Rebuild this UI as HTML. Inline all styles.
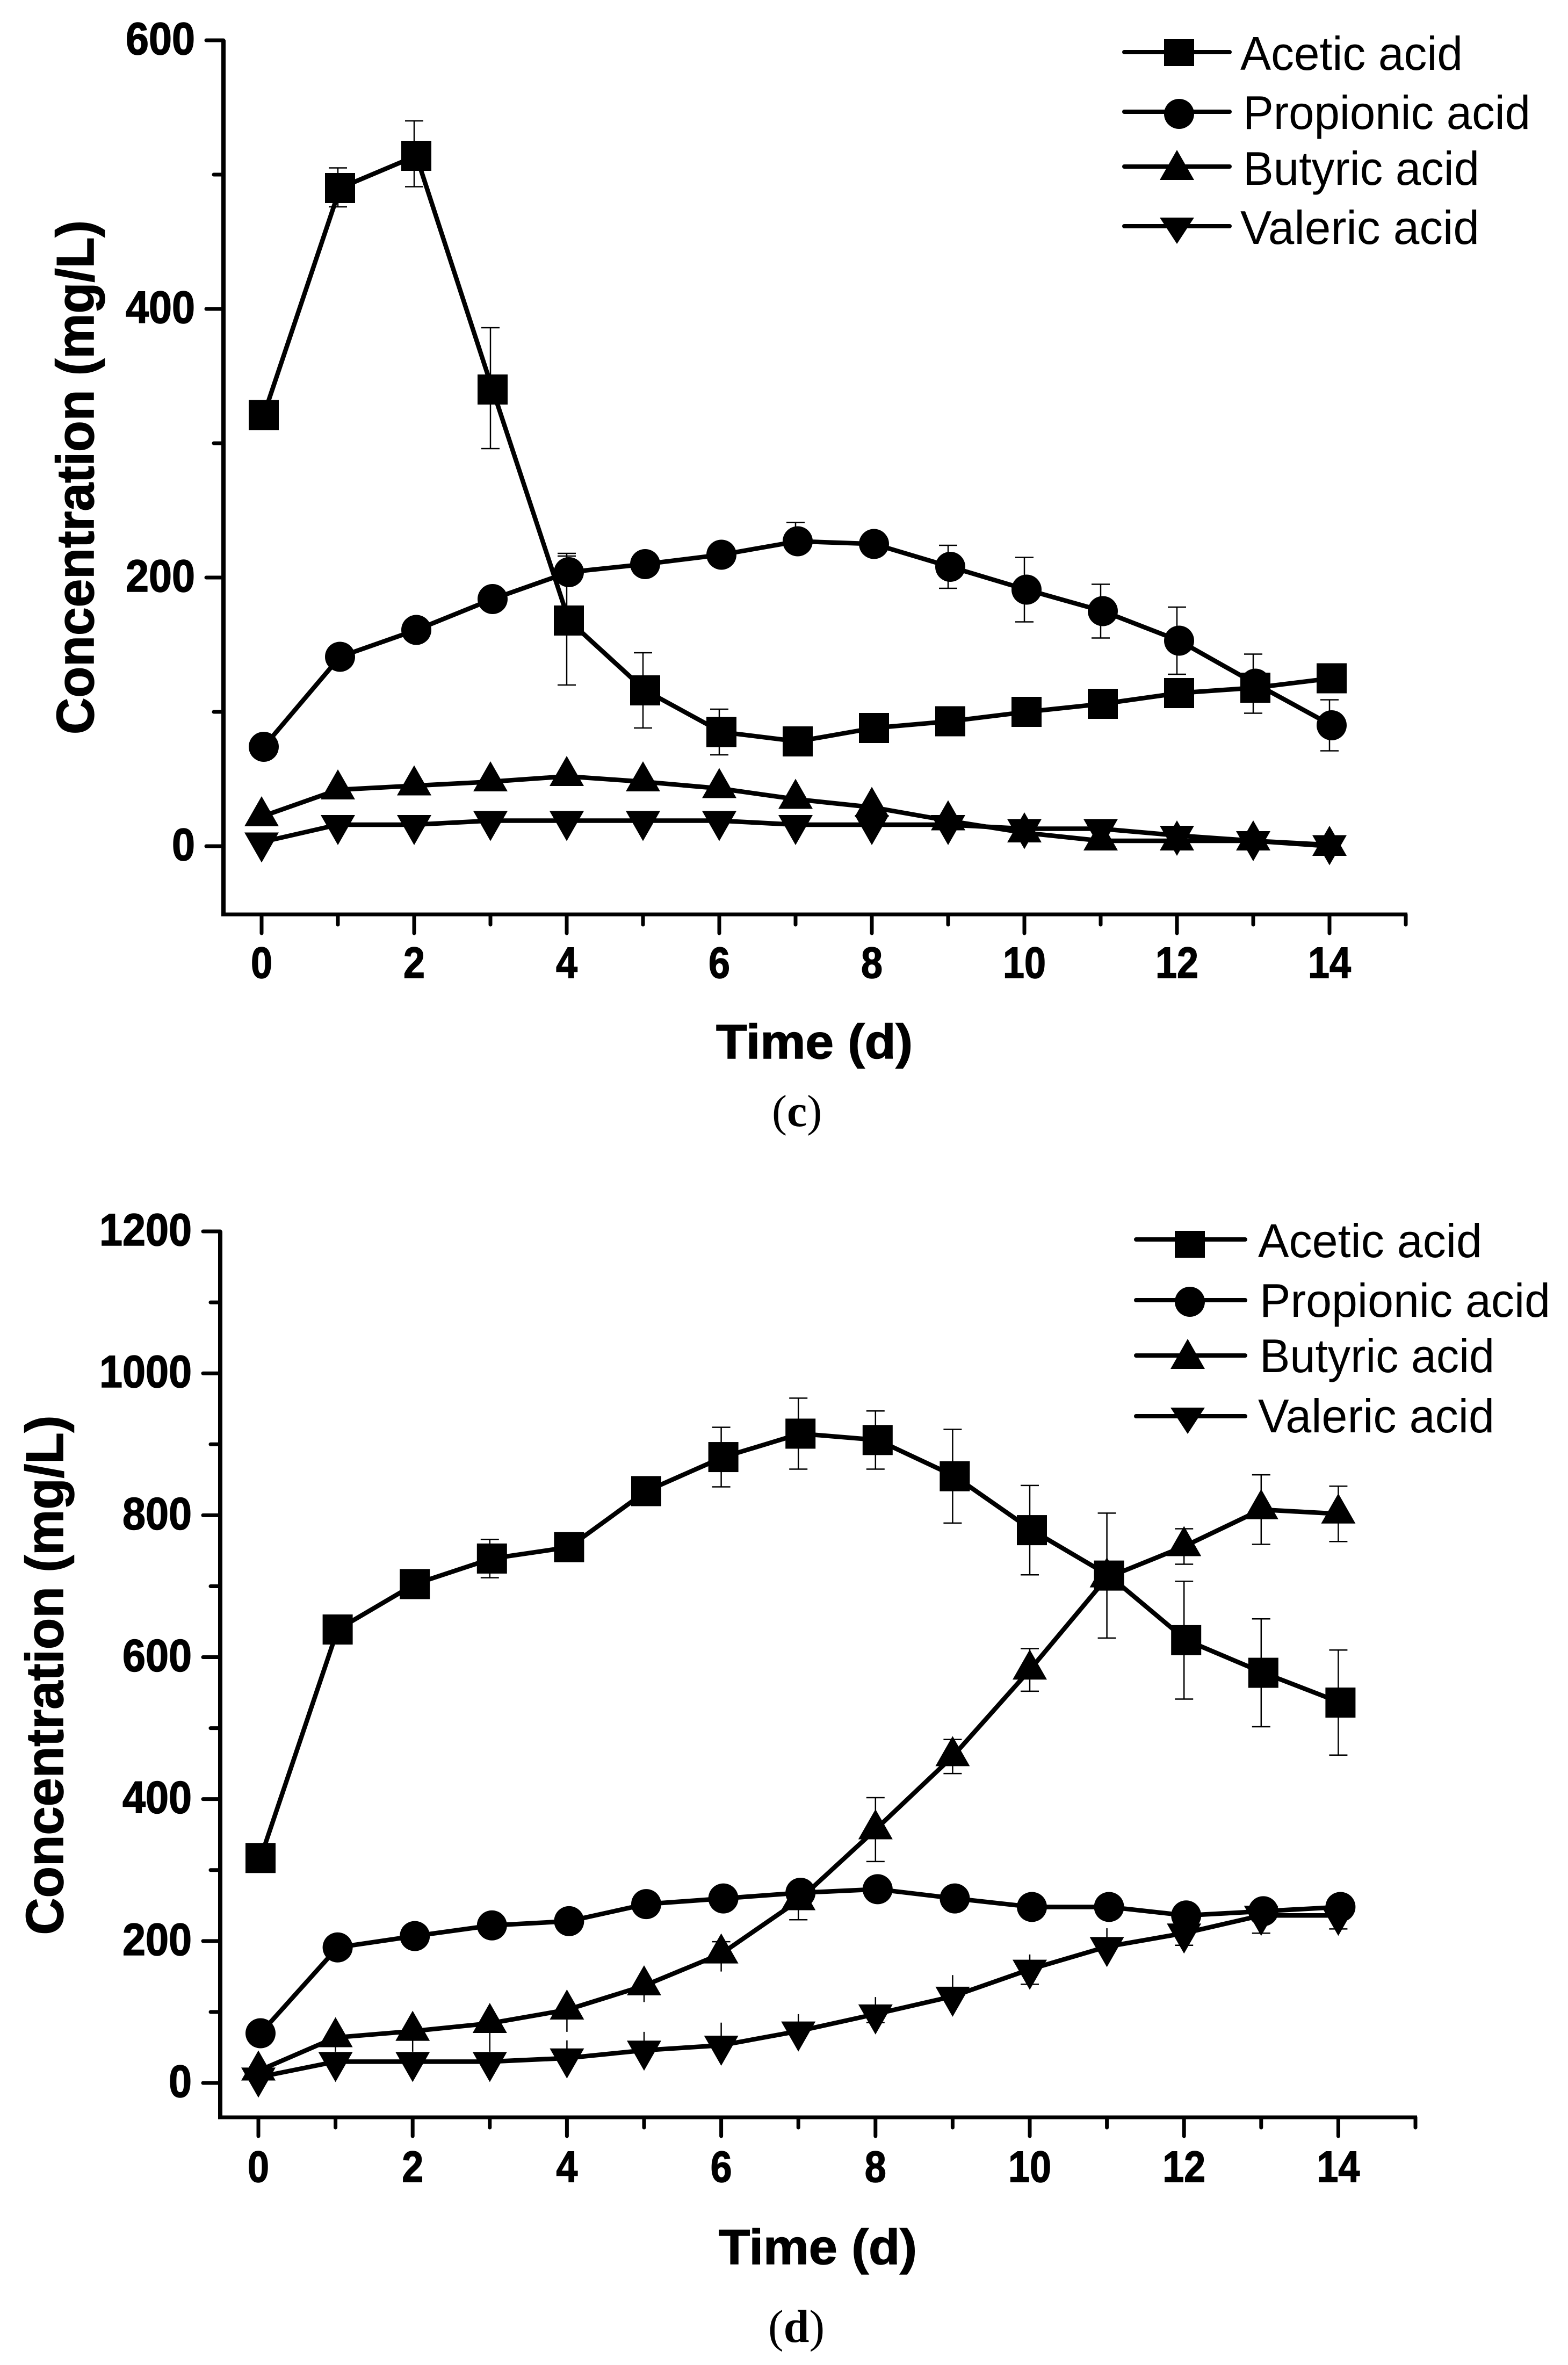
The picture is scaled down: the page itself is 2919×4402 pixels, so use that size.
<!DOCTYPE html>
<html lang="en">
<head>
<meta charset="utf-8">
<title>Volatile fatty acid concentration over time, panels c and d</title>
<style>
html,body{margin:0;padding:0;background:#fff;}
svg{display:block;}
text{fill:#000;font-family:"Liberation Sans",Arial,sans-serif;}
.bold{font-weight:bold;stroke:#000;stroke-width:1.5px;}
.caption{font-family:"Liberation Serif","Times New Roman",serif;}
</style>
</head>
<body>
<svg id="figure" xmlns="http://www.w3.org/2000/svg" width="2919" height="4402" viewBox="0 0 2919 4402">
  <rect x="0" y="0" width="2919" height="4402" fill="#fff"/>

  <g id="panel-c"></g>
  <text class="bold" font-size="98" text-anchor="middle" textLength="957" lengthAdjust="spacingAndGlyphs" transform="translate(174,888.5) rotate(-90)">Concentration (mg/L)</text>
  <text class="bold" font-size="90" x="1333" y="1970" textLength="366" lengthAdjust="spacingAndGlyphs">Time (d)</text>
  <text class="caption" font-size="84" x="1437" y="2096">(<tspan font-weight="bold">c</tspan>)</text>
  <g>
    <g>
      <line x1="2093" y1="97" x2="2289" y2="97" stroke="#000" stroke-width="8" stroke-linecap="round"/>
      <rect x="2167" y="73" width="56" height="50" fill="#000"/>
      <text font-size="88" x="2309" y="130" textLength="414" lengthAdjust="spacingAndGlyphs">Acetic acid</text>
    </g>
    <g>
      <line x1="2093" y1="208" x2="2289" y2="208" stroke="#000" stroke-width="8" stroke-linecap="round"/>
      <circle cx="2195" cy="212" r="28" fill="#000"/>
      <text font-size="88" x="2314" y="240" textLength="535" lengthAdjust="spacingAndGlyphs">Propionic acid</text>
    </g>
    <g>
      <line x1="2093" y1="310" x2="2289" y2="310" stroke="#000" stroke-width="8" stroke-linecap="round"/>
      <polygon points="2191,279 2159,335 2223,335" fill="#000"/>
      <text font-size="88" x="2314" y="344" textLength="440" lengthAdjust="spacingAndGlyphs">Butyric acid</text>
    </g>
    <g>
      <line x1="2093" y1="421" x2="2289" y2="421" stroke="#000" stroke-width="8" stroke-linecap="round"/>
      <polygon points="2159,405 2223,405 2191,454" fill="#000"/>
      <text font-size="88" x="2309" y="454" textLength="445" lengthAdjust="spacingAndGlyphs">Valeric acid</text>
    </g>
  </g>

  <g id="panel-d"></g>
  <text class="bold" font-size="98" text-anchor="middle" textLength="967" lengthAdjust="spacingAndGlyphs" transform="translate(117,3118) rotate(-90)">Concentration (mg/L)</text>
  <text class="bold" font-size="92" x="1338" y="4214" textLength="369" lengthAdjust="spacingAndGlyphs">Time (d)</text>
  <text class="caption" font-size="86" x="1430" y="4359">(<tspan font-weight="bold">d</tspan>)</text>
  <g>
    <g>
      <line x1="2115" y1="2307" x2="2318" y2="2307" stroke="#000" stroke-width="8" stroke-linecap="round"/>
      <rect x="2187" y="2291" width="56" height="50" fill="#000"/>
      <text font-size="88" x="2342" y="2340" textLength="417" lengthAdjust="spacingAndGlyphs">Acetic acid</text>
    </g>
    <g>
      <line x1="2115" y1="2420" x2="2318" y2="2420" stroke="#000" stroke-width="8" stroke-linecap="round"/>
      <circle cx="2215" cy="2423" r="28" fill="#000"/>
      <text font-size="88" x="2345" y="2451" textLength="541" lengthAdjust="spacingAndGlyphs">Propionic acid</text>
    </g>
    <g>
      <line x1="2115" y1="2523" x2="2318" y2="2523" stroke="#000" stroke-width="8" stroke-linecap="round"/>
      <polygon points="2211,2492 2179,2548 2243,2548" fill="#000"/>
      <text font-size="88" x="2345" y="2554" textLength="437" lengthAdjust="spacingAndGlyphs">Butyric acid</text>
    </g>
    <g>
      <line x1="2115" y1="2636" x2="2318" y2="2636" stroke="#000" stroke-width="8" stroke-linecap="round"/>
      <polygon points="2179,2620 2243,2620 2211,2669" fill="#000"/>
      <text font-size="88" x="2342" y="2666" textLength="440" lengthAdjust="spacingAndGlyphs">Valeric acid</text>
    </g>
  </g>
</svg>

<script>
// Shared categories and tick labels
const days = [0,1,2,3,4,5,6,7,8,9,10,11,12,13,14];
const xMajorTicks = [0,2,4,6,8,10,12,14];
const xMinorTicks = [1,3,5,7,9,11,13,15];

// Panel (c) tick labels
const cYMajorTicks = [0,200,400,600];
const cYMinorTicks = [100,300,500];

// Panel (c) series values (mg/L)
const cAcetic = [321,490,514,340,168,116,85,78,88,93,100,106,114,118,125];
const cPropionic = [74,141,161,184,204,210,217,227,225,208,191,175,153,121,90];
const cButyric = [22,42,45,48,52,48,43,35,29,19,10,4,4,4,0];
const cValeric = [3,16,16,19,19,19,19,16,16,16,13,13,8,4,1];

// Panel (c) error-bar extents above and below each value (mg/L)
const cAceticErrUp = [0,15,26,46,48,28,17,0,0,0,0,0,0,0,0];
const cAceticErrDown = [0,14,23,44,48,28,17,0,0,0,0,0,0,0,0];
const cPropionicErrUp = [0,0,0,0,14,0,0,14,0,16,24,20,25,22,19];
const cPropionicErrDown = [0,0,0,0,0,0,0,0,0,16,24,20,25,22,19];
const cNoErr = [0,0,0,0,0,0,0,0,0,0,0,0,0,0,0];

// Panel (d) tick labels
const dYMajorTicks = [0,200,400,600,800,1000,1200];
const dYMinorTicks = [100,300,500,700,900,1100];

// Panel (d) series values (mg/L)
const dAcetic = [317,639,703,739,755,834,882,915,906,855,779,715,624,578,536];
const dPropionic = [70,191,207,222,228,252,260,268,273,260,248,248,236,242,248];
const dButyric = [17,64,73,84,103,137,182,257,357,460,582,712,756,808,802];
const dValeric = [8,30,30,30,35,46,53,73,97,122,160,192,211,236,236];

// Panel (d) error-bar extents above and below each value (mg/L)
const dAceticErr = [0,0,0,27,0,0,42,50,41,66,63,88,83,76,74];
const dNoErr = [0,0,0,0,0,0,0,0,0,0,0,0,0,0,0];
const dButyricErrUp = [0,0,0,0,0,0,17,0,45,24,30,0,25,49,39];
const dButyricErrDown = [0,20,29,40,31,23,25,27,45,24,30,0,25,49,39];
const dValericErrUp = [0,0,0,0,25,26,32,24,24,30,21,26,0,0,0];
const dValericErrDown = [0,0,0,0,0,0,0,0,12,0,21,0,17,25,19];

const SVG_NS = 'http://www.w3.org/2000/svg';

function node(parent, tag, attrs) {
  const el = document.createElementNS(SVG_NS, tag);
  for (const k in attrs) el.setAttribute(k, attrs[k]);
  parent.appendChild(el);
  return el;
}

function drawPanel(root, cfg, series) {
  // Axis functions
  const sx = v => cfg.x0 + v * cfg.xPerUnit;
  const sy = v => cfg.y0 - v * cfg.yPerUnit;
  const bottom = sy(cfg.yMin);
  const left = cfg.axisX;

  // Axes
  const yAxis = node(root, 'line', {x1:left, y1:sy(cfg.yMax), x2:left, y2:bottom+3, stroke:'#000', 'stroke-width':8});
  
  
  const xAxis = node(root, 'line', {x1:left-4, y1:bottom, x2:sx(15)+3, y2:bottom, stroke:'#000', 'stroke-width':7});
  
  

  // Y ticks
  cfg.yMajor.forEach(v => {
    const t = node(root, 'line', {x1:left-32, y1:sy(v), x2:left, y2:sy(v), stroke:'#000', 'stroke-width':7, 'stroke-linecap':'round'});
    
    
    const s = String(v);
    const l = node(root, 'text', {x:cfg.yLabelRight, y:sy(v)+26, 'font-size':84, 'font-weight':'bold', stroke:'#000', 'stroke-width':1.5, 'text-anchor':'end', textLength:s.length*43, lengthAdjust:'spacingAndGlyphs'});
    l.textContent = s;
    
    
  });
  cfg.yMinor.forEach(v => {
    const t = node(root, 'line', {x1:left-18, y1:sy(v), x2:left, y2:sy(v), stroke:'#000', 'stroke-width':7, 'stroke-linecap':'round'});
    
    
  });

  // X ticks
  xMajorTicks.forEach(v => {
    const t = node(root, 'line', {x1:sx(v), y1:bottom, x2:sx(v), y2:bottom+35, stroke:'#000', 'stroke-width':7, 'stroke-linecap':'round'});
    
    
    const s = String(v);
    const l = node(root, 'text', {x:sx(v), y:cfg.xLabelBase, 'font-size':82, 'font-weight':'bold', stroke:'#000', 'stroke-width':1.5, 'text-anchor':'middle', textLength:s.length*40, lengthAdjust:'spacingAndGlyphs'});
    l.textContent = s;
    
    
  });
  xMinorTicks.forEach(v => {
    const t = node(root, 'line', {x1:sx(v), y1:bottom, x2:sx(v), y2:bottom+19, stroke:'#000', 'stroke-width':7, 'stroke-linecap':'round'});
    
    
  });

  // Series
  series.forEach(sr => {
    const g = node(root, 'g', {});
    
    

    // Error bars sit on the tick position
    days.forEach((d, i) => {
      const up = sr.errUp[i], down = sr.errDown[i];
      if (!up && !down) return;
      const x = sx(d), v = sr.values[i];
      let path = 'M' + x + ' ' + sy(v+up) + 'V' + sy(v-down);
      if (up && i >= sr.capUpFrom) path += 'M' + (x-17) + ' ' + sy(v+up) + 'H' + (x+17);
      if (down && i >= sr.capDownFrom) path += 'M' + (x-17) + ' ' + sy(v-down) + 'H' + (x+17);
      const eb = node(g, 'path', {d:path, fill:'none', stroke:'#000', 'stroke-width':2.5});
      
      
    });

    // Connecting line
    const pts = days.map((d, i) => (sx(d)+sr.dx) + ',' + sy(sr.values[i])).join(' ');
    const pl = node(g, 'polyline', {points:pts, fill:'none', stroke:'#000', 'stroke-width':8.5, 'stroke-linejoin':'round'});
    
    

    // Markers
    days.forEach((d, i) => {
      const x = sx(d) + sr.dx, y = sy(sr.values[i]);
      let m;
      if (sr.shape === 'square') {
        m = node(g, 'rect', {x:x-28, y:y-28, width:56, height:56, fill:'#000'});
      } else if (sr.shape === 'circle') {
        m = node(g, 'circle', {cx:x, cy:y, r:28, fill:'#000'});
      } else if (sr.shape === 'up') {
        m = node(g, 'polygon', {points:x+','+(y-38)+' '+(x-32)+','+(y+18)+' '+(x+32)+','+(y+18), fill:'#000'});
      } else {
        m = node(g, 'polygon', {points:(x-32)+','+(y-18)+' '+(x+32)+','+(y-18)+' '+x+','+(y+38), fill:'#000'});
      }
      
      
    });
  });
}

drawPanel(document.getElementById('panel-c'), {
  x0:487, xPerUnit:142, y0:1575, yPerUnit:2.5, yMin:-50.8, yMax:600,
  axisX:416, yLabelRight:363, xLabelBase:1820,
  yMajor:cYMajorTicks, yMinor:cYMinorTicks
}, [
  {name:'acetic-acid', shape:'square', dx:4, values:cAcetic, errUp:cAceticErrUp, errDown:cAceticErrDown, capUpFrom:0, capDownFrom:0},
  {name:'propionic-acid', shape:'circle', dx:4, values:cPropionic, errUp:cPropionicErrUp, errDown:cPropionicErrDown, capUpFrom:0, capDownFrom:0},
  {name:'butyric-acid', shape:'up', dx:0, values:cButyric, errUp:cNoErr, errDown:cNoErr, capUpFrom:0, capDownFrom:0},
  {name:'valeric-acid', shape:'down', dx:0, values:cValeric, errUp:cNoErr, errDown:cNoErr, capUpFrom:0, capDownFrom:0}
]);

drawPanel(document.getElementById('panel-d'), {
  x0:481, xPerUnit:143.6, y0:3877, yPerUnit:1.3208, yMin:-48.5, yMax:1200,
  axisX:410, yLabelRight:357, xLabelBase:4061,
  yMajor:dYMajorTicks, yMinor:dYMinorTicks
}, [
  {name:'acetic-acid', shape:'square', dx:4, values:dAcetic, errUp:dAceticErr, errDown:dAceticErr, capUpFrom:0, capDownFrom:0},
  {name:'propionic-acid', shape:'circle', dx:4, values:dPropionic, errUp:dNoErr, errDown:dNoErr, capUpFrom:0, capDownFrom:0},
  {name:'butyric-acid', shape:'up', dx:0, values:dButyric, errUp:dButyricErrUp, errDown:dButyricErrDown, capUpFrom:0, capDownFrom:7},
  {name:'valeric-acid', shape:'down', dx:0, values:dValeric, errUp:dValericErrUp, errDown:dValericErrDown, capUpFrom:99, capDownFrom:0}
]);
</script>
</body>
</html>
